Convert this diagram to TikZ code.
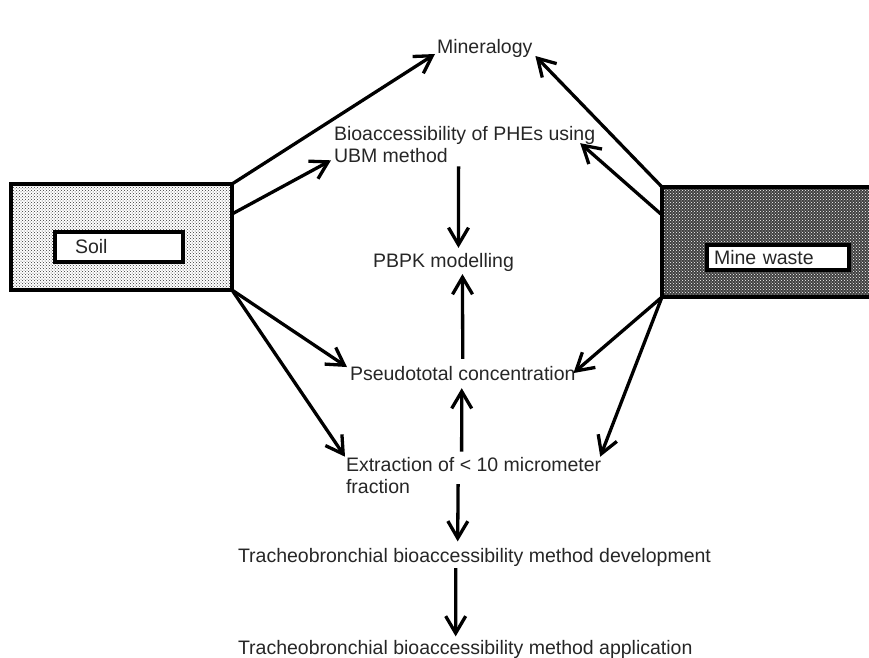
\documentclass[tikz,border=0pt]{standalone}
\usepackage{fontspec}
\setmainfont{Liberation Sans}
\usetikzlibrary{arrows.meta,patterns}
\begin{document}
\begin{tikzpicture}[x=1pt,y=-1pt,
  font=\fontsize{19.5}{22}\selectfont,
  lbl/.style={inner sep=0pt, outer sep=0pt, text=black!85},
  bigbox/.style={draw, line width=3.2pt, anchor=north west, inner sep=0pt, outer sep=0pt},
  tagbox/.style={draw, line width=3.2pt, fill=white, anchor=north west, inner ysep=0pt, outer sep=0pt, align=left, text=black!85},
  conn/.style={line width=3.3pt, -{Straight Barb[length=17pt,width=20pt]}}]
\useasboundingbox (0,0) rectangle (869,657);
\clip (0,0) rectangle (869,657);

% source boxes
\node[bigbox, minimum width=221pt, minimum height=106pt,
      pattern=crosshatch dots, pattern color=black!80] (soil) at (11,184) {};
\node[bigbox, minimum width=220pt, minimum height=110pt,
      preaction={fill=black!75}, pattern=crosshatch dots, pattern color=white] (mine) at (662,187) {};
\node[tagbox, minimum width=128pt, minimum height=30pt, text width=88pt, inner xsep=20pt] (soiltag) at (55,232) {Soil};
\node[tagbox, minimum width=142pt, minimum height=25pt, text width=128pt, inner xsep=7pt] (minetag) at (707,245) {Mine waste};

% texts
\node[lbl, anchor=base west] (min) at (437,53) {Mineralogy};
\node[lbl, anchor=north west, align=left] (bio) at (334,126) {Bioaccessibility of PHEs using\\UBM method};
\node[lbl, anchor=base west] (pbpk) at (373,267) {PBPK modelling};
\node[lbl, anchor=base west] (pseudo) at (350,380) {Pseudototal concentration};
\node[lbl, anchor=north west, align=left] (ext) at (346,457.7) {Extraction of < 10 micrometer\\fraction};
\node[lbl, anchor=base west] (dev) at (238,562) {Tracheobronchial bioaccessibility method development};
\node[lbl, anchor=base west] (app) at (238,654) {Tracheobronchial bioaccessibility method application};

% connectors from soil
\draw[conn] (soil.north east) -- ([shift={(-2,1)}]min.base west);
\draw[conn] ([shift={(0,30)}]soil.north east) -- ([shift={(-3,-2)}]bio.south west);
\draw[conn] (soil.south east) -- ([shift={(-3,-6)}]pseudo.west);
\draw[conn] (soil.south east) -- ([shift={(-1,-1)}]ext.north west);

% connectors from mine waste
\draw[conn] (mine.north west) -- ([shift={(3,3)}]min.base east);
\draw[conn] ([shift={(0,28)}]mine.north west) -- ([shift={(-15,-1)}]bio.east);
\draw[conn] (mine.south west) -- ([shift={(-2,0)}]pseudo.east);
\draw[conn] (mine.south west) -- ([shift={(-1,-1)}]ext.north east);

% vertical connectors
\draw[conn] ([shift={(-6,4)}]bio.south) -- ([shift={(15,-5)}]pbpk.north);
\draw[conn] ([shift={(0,-7)}]pseudo.north) -- ([shift={(19,3)}]pbpk.south);
\draw[conn] ([shift={(-12,-6)}]ext.north) -- ([shift={(-1,8)}]pseudo.south);
\draw[conn] ([shift={(-15.5,-10)}]ext.south) -- ([shift={(-16.8,-6.5)}]dev.north);
\draw[conn] ([shift={(-18.8,2)}]dev.south) -- ([shift={(-9.6,-3.5)}]app.north);
\end{tikzpicture}
\end{document}
